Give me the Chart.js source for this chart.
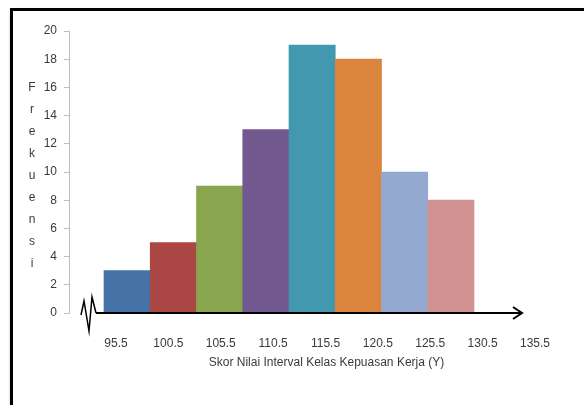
<!DOCTYPE html>
<html>
<head>
<meta charset="utf-8">
<script src="https://cdn.jsdelivr.net/npm/chart.js@4"></script>
<style>
    body { margin: 0; background: #fff; }
    #wrap { position: relative; width: 584px; height: 405px; overflow: hidden; }
    #frame {
        position: absolute; left: 10px; top: 8px; width: 620px; height: 440px;
        border-top: 3px solid #000; border-left: 3px solid #000;
        box-shadow: 0 1px 2px rgba(0,0,0,0.25);
        pointer-events: none;
    }
    canvas { position: absolute; left: 0; top: 0; }
</style>
</head>
<body>
<div id="wrap">
    <canvas id="myChart" width="584" height="405"></canvas>
    <div id="frame"></div>
</div>
<script>
// class intervals (midpoints) and their frequencies
const classMidpoints = [98, 103, 108, 113, 118, 123, 128, 133];
const frequencies = [3, 5, 9, 13, 19, 18, 10, 8];
const barColors = ['#4572A7', '#AA4643', '#89A54E', '#71588F', '#4198AF', '#DB843D', '#93A9CF', '#D19392'];
const xTickLabels = ['95.5', '100.5', '105.5', '110.5', '115.5', '120.5', '125.5', '130.5', '135.5'];
const yMax = 20;
const yStep = 2;
const yTitle = 'Frekuensi';
const xTitle = 'Skor Nilai Interval Kelas Kepuasan Kerja (Y)';

const textColor = '#3a3a3a';
const fontFamily = '"Liberation Sans", Arial, sans-serif';

// draws the stacked y title, the axis break and the arrowed x axis
const decorPlugin = {
    id: 'decor',
    afterDraw: function (chart) {
        const ctx = chart.ctx;
        const area = chart.chartArea;
        const x = chart.scales.x;
        const y0 = chart.scales.y.getPixelForValue(0);
        const barsEnd = x.getPixelForValue(classMidpoints[classMidpoints.length - 1] + 2.5);
        const axisEnd = barsEnd + 48;
        const l = area.left;

        ctx.save();
        ctx.strokeStyle = '#000';
        ctx.lineJoin = 'miter';

        // break symbol
        ctx.lineWidth = 1.5;
        ctx.beginPath();
        ctx.moveTo(l + 12, y0 + 2);
        ctx.lineTo(l + 15, y0 - 12);
        ctx.lineTo(l + 20, y0 + 18);
        ctx.lineTo(l + 23, y0 - 16);
        ctx.lineTo(l + 27, y0);
        ctx.stroke();

        // x axis line with arrow
        ctx.lineWidth = 2;
        ctx.beginPath();
        ctx.moveTo(l + 27, y0);
        ctx.lineTo(axisEnd, y0);
        ctx.stroke();
        ctx.beginPath();
        ctx.moveTo(axisEnd - 9, y0 - 6);
        ctx.lineTo(axisEnd, y0);
        ctx.lineTo(axisEnd - 9, y0 + 6);
        ctx.stroke();

        // vertical letters of the y title
        ctx.fillStyle = textColor;
        ctx.font = '12px ' + fontFamily;
        ctx.textAlign = 'center';
        ctx.textBaseline = 'middle';
        const step = 22;
        const mid = (area.top + area.bottom) / 2 + 4;
        const letters = yTitle.split('');
        letters.forEach(function (ch, i) {
            ctx.fillText(ch, 32, mid + (i - (letters.length - 1) / 2) * step);
        });
        ctx.restore();
    }
};

const barData = classMidpoints.map(function (m, i) {
    return { x: m, y: frequencies[i] };
});

const chart = new Chart(document.getElementById('myChart'), {
    type: 'bar',
    data: {
        datasets: [{
            data: barData,
            backgroundColor: barColors,
            borderWidth: 0,
            barPercentage: 1,
            categoryPercentage: 1
        }]
    },
    options: {
        responsive: false,
        animation: false,
        layout: { padding: { top: 31, left: 0, right: 0, bottom: 0 } },
        plugins: {
            legend: { display: false },
            tooltip: { enabled: false }
        },
        scales: {
            x: {
                type: 'linear',
                display: false,
                offset: false,
                min: 91.716,
                max: 147.39
            },
            x2: {
                type: 'linear',
                position: 'bottom',
                offset: false,
                min: 91.013,
                max: 140.18,
                grid: { display: false, drawTicks: false, offset: false },
                border: { display: false },
                afterBuildTicks: function (scale) {
                    scale.ticks = xTickLabels.map(function (t) {
                        return { value: parseFloat(t) };
                    });
                },
                afterFit: function (scale) {
                    scale.height = 92;
                },
                ticks: {
                    autoSkip: false,
                    maxRotation: 0,
                    padding: 23,
                    color: textColor,
                    font: { size: 12, family: fontFamily },
                    callback: function (value) {
                        return value.toFixed(1);
                    }
                },
                title: {
                    display: true,
                    text: xTitle,
                    color: textColor,
                    font: { size: 12, family: fontFamily },
                    padding: { top: 0, bottom: 35 }
                }
            },
            y: {
                min: 0,
                max: yMax,
                afterFit: function (scale) {
                    scale.width = 69;
                },
                grid: {
                    drawOnChartArea: false,
                    drawTicks: true,
                    tickLength: 5,
                    color: '#bfbfbf'
                },
                border: { display: true, color: '#bfbfbf', width: 1 },
                ticks: {
                    stepSize: yStep,
                    padding: 7,
                    color: textColor,
                    font: { size: 12, family: fontFamily }
                }
            }
        }
    },
    plugins: [decorPlugin]
});
</script>
</body>
</html>
